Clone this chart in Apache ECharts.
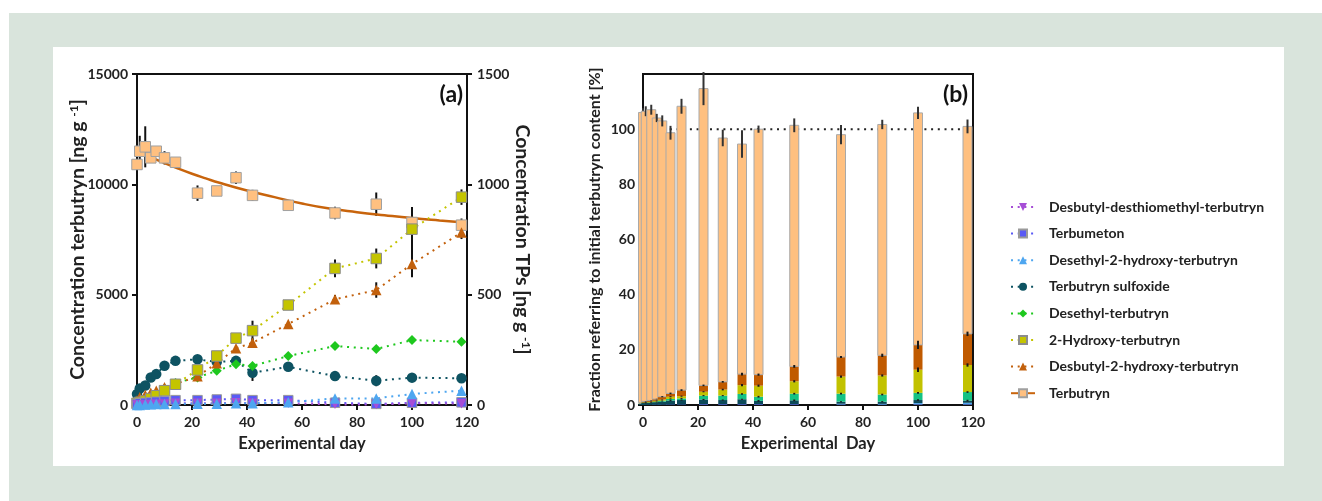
<!DOCTYPE html>
<html>
<head>
<meta charset="utf-8">
<script src="https://cdn.jsdelivr.net/npm/echarts@6/dist/echarts.min.js"></script>
<style>
  html, body { margin: 0; padding: 0; background: #ffffff; }
  #frame { position: relative; width: 1322px; height: 501px; overflow: hidden; }
  #outer { position: absolute; left: 9px; top: 13px; right: 0; bottom: 0; background: #d9e4dc; }
  #panel { position: absolute; left: 53px; top: 47px; width: 1231px; height: 419px; background: #ffffff; }
  #chart { position: absolute; left: 0; top: 0; width: 1322px; height: 501px; }
</style>
</head>
<body>
<div id="frame">
  <div id="outer"></div>
  <div id="panel"></div>
  <div id="chart"></div>
</div>
<script>
// Sampling days of the soil incubation experiment
const days = [0, 1, 3, 5, 7, 10, 14, 22, 29, 36, 42, 55, 72, 87, 100, 118];

// Panel (a): terbutryn concentration [ng/g] (left axis) with standard deviations
const terbutryn   = [10900, 11500, 11700, 11200, 11500, 11200, 11000, 9600, 9700, 10300, 9500, 9050, 8700, 9100, 8270, 8150];
const terbutrynSd = [500, 700, 930, 0, 150, 300, 0, 350, 0, 280, 250, 0, 280, 530, 600, 300];

// Fitted decay curve of terbutryn
const fitDays   = [1, 5, 10, 15, 20, 25, 30, 40, 50, 60, 70, 80, 90, 100, 110, 118];
const fitValues = [11450, 11230, 10960, 10710, 10480, 10270, 10070, 9720, 9420, 9130, 8900, 8740, 8600, 8470, 8360, 8280];

// Panel (a): transformation products [ng/g] (right axis)
const desbutylDesthiomethyl = [0, 0, 0, 2, 3, 5, 8, 8, 8, 10, 8, 8, 3, 2, 8, 6];
const terbumeton            = [5, 8, 10, 12, 15, 18, 22, 22, 25, 28, 22, 22, 10, 5, 10, 12];
const desethylHydroxy       = [0, 0, 2, 3, 4, 5, 5, 6, 6, 8, 8, 12, 30, 30, 50, 65];
const sulfoxide             = [50, 75, 88, 125, 140, 178, 200, 207, 195, 200, 146, 173, 131, 110, 124, 121];
const sulfoxideSd           = [0, 0, 0, 0, 0, 5, 5, 5, 0, 8, 37, 15, 15, 25, 15, 5];
const desethyl              = [5, 10, 20, 30, 45, 75, 100, 125, 155, 185, 177, 222, 267, 254, 294, 287];
const desethylSd            = [0, 0, 0, 0, 0, 0, 5, 5, 5, 5, 12, 8, 8, 8, 8, 6];
const hydroxy               = [8, 12, 18, 29, 42, 65, 94, 159, 222, 303, 337, 453, 619, 664, 797, 942];
const hydroxySd             = [0, 0, 0, 0, 0, 0, 0, 5, 5, 10, 45, 10, 40, 45, 100, 35];
const desbutylHydroxy       = [20, 35, 45, 55, 65, 80, 95, 130, 189, 257, 282, 367, 479, 521, 639, 782];
const desbutylHydroxySd     = [0, 0, 0, 0, 0, 0, 0, 5, 8, 10, 20, 5, 20, 35, 60, 30];

// Panel (b): fractions referring to the initial terbutryn content [%]
const fracDesbutylDesthiomethyl = [0, 0, 0, 0, 0, 0, 0, 0.05, 0.05, 0.05, 0.05, 0.05, 0.05, 0.05, 0.1, 0.1];
const fracTerbumeton            = [0, 0, 0.05, 0.1, 0.1, 0.15, 0.15, 0.2, 0.2, 0.2, 0.2, 0.2, 0.1, 0.05, 0.1, 0.1];
const fracDesethylHydroxy       = [0, 0, 0, 0.05, 0.05, 0.05, 0.05, 0.1, 0.1, 0.1, 0.1, 0.1, 0.3, 0.3, 0.5, 0.6];
const fracSulfoxide             = [0.5, 0.7, 0.75, 0.85, 1.05, 1.4, 1.6, 1.65, 1.45, 1.75, 1.15, 1.35, 0.75, 0.8, 1.1, 0.8];
const fracDesethyl              = [0.05, 0.1, 0.15, 0.25, 0.4, 0.6, 0.6, 1.4, 1.6, 1.9, 1.5, 2.4, 2.9, 2.6, 2.6, 3.1];
const fracHydroxy               = [0.1, 0.15, 0.2, 0.3, 0.4, 0.8, 0.8, 1.4, 2.2, 3.2, 4.0, 4.5, 6.2, 6.9, 8.4, 9.8];
const fracDesbutylHydroxy       = [0.2, 0.35, 0.5, 0.6, 1.0, 1.2, 2.2, 2.3, 2.8, 4.0, 4.0, 5.4, 7.1, 7.3, 9.0, 11.3];
const fracTerbutryn             = [105.2, 105.2, 105.4, 101.9, 100.0, 94.5, 102.9, 107.6, 88.4, 83.4, 89.0, 87.4, 80.6, 83.7, 84.1, 75.2];
const fracTotalSd               = [1.5, 1.8, 1.8, 1.5, 2, 2.5, 2.7, 6, 3, 5, 1.3, 2.5, 3.5, 1.7, 2.2, 2.5];
const fracSulfoxideSd           = [0.1, 0.1, 0.1, 0.1, 0.1, 0.2, 0.2, 0.2, 0.2, 0.2, 0.3, 0.3, 0.2, 0.2, 0.3, 0.3];
const fracDesethylSd            = [0.1, 0.1, 0.1, 0.1, 0.1, 0.2, 0.2, 0.2, 0.2, 0.3, 0.3, 0.3, 0.3, 0.3, 0.3, 0.3];
const fracHydroxySd             = [0.1, 0.1, 0.1, 0.1, 0.1, 0.2, 0.2, 0.2, 0.3, 0.4, 0.4, 0.4, 0.4, 0.4, 0.8, 0.6];
const fracDesbutylHydroxySd     = [0.1, 0.1, 0.1, 0.1, 0.2, 0.3, 0.3, 0.3, 0.3, 0.5, 0.4, 0.5, 0.4, 0.6, 1.5, 0.8];
const referenceLevel = 100;

const names = {
  ddt: 'Desbutyl-desthiomethyl-terbutryn',
  tbm: 'Terbumeton',
  d2h: 'Desethyl-2-hydroxy-terbutryn',
  sul: 'Terbutryn sulfoxide',
  det: 'Desethyl-terbutryn',
  hyd: '2-Hydroxy-terbutryn',
  db2h: 'Desbutyl-2-hydroxy-terbutryn',
  tby: 'Terbutryn'
};

const FONT = 'Lato, "Open Sans", sans-serif';
const INK = '#222222';
const AXIS = '#111111';

const colors = {
  ddt: '#a64ed6', tbm: '#5a5af5', d2h: '#4ea6f0', sul: '#0e5362',
  det: '#1ec81e', hyd: '#c4c400', db2h: '#c2600c', tby: '#ffc080', tbyLine: '#c8640c'
};
const barColors = {
  ddt: '#a64ed6', tbm: '#5a5af5', d2h: '#4ea6f0', sul: '#0d4a5a',
  det: '#14c283', hyd: '#c2c200', db2h: '#c05a00', tby: '#ffc080'
};

const pairs = (xs, ys) => xs.map((x, i) => [x, ys[i]]);

// dotted connecting line + markers for one transformation product
function tpSeries(key, values, symbol, size, extra) {
  return Object.assign({
    name: names[key], type: 'line', xAxisIndex: 0, yAxisIndex: 1,
    data: pairs(days, values),
    symbol: symbol, symbolSize: size, showAllSymbol: true,
    lineStyle: { color: colors[key], width: 2, type: [2, 4.7] },
    itemStyle: { color: colors[key] },
    emphasis: { disabled: true }
  }, extra || {});
}

// vertical error bars (mean ± SD)
function errorBars(values, sds, yAxisIndex, color) {
  return {
    type: 'custom', xAxisIndex: 0, yAxisIndex: yAxisIndex, silent: true,
    data: days.map((d, i) => [d, values[i], sds[i]]),
    encode: { x: 0, y: 1 },
    renderItem: function (params, api) {
      const sd = api.value(2);
      if (!sd) return null;
      const x = api.value(0), y = api.value(1);
      const a = api.coord([x, y - sd]);
      const b = api.coord([x, y + sd]);
      return { type: 'line', shape: { x1: a[0], y1: a[1], x2: b[0], y2: b[1] },
               style: { stroke: color || '#111', lineWidth: 2 } };
    }
  };
}

// stacked fraction bars, bottom to top
const stackParts = [
  { values: fracDesbutylDesthiomethyl, color: barColors.ddt },
  { values: fracTerbumeton, color: barColors.tbm },
  { values: fracDesethylHydroxy, color: barColors.d2h },
  { values: fracSulfoxide, color: barColors.sul, sd: fracSulfoxideSd },
  { values: fracDesethyl, color: barColors.det, sd: fracDesethylSd },
  { values: fracHydroxy, color: barColors.hyd, sd: fracHydroxySd },
  { values: fracDesbutylHydroxy, color: barColors.db2h, sd: fracDesbutylHydroxySd },
  { values: fracTerbutryn, color: barColors.tby, stroke: '#a9a9a9', sd: fracTotalSd, sdColor: '#333' }
];
const barRows = days.map((d, i) => [d].concat(stackParts.map(p => p.values[i])).concat(stackParts.map(p => (p.sd ? p.sd[i] : 0))));
const nParts = stackParts.length;

const plainNumber = (v) => String(v);
const axisLabelStyle = { fontFamily: FONT, fontSize: 14, fontWeight: 'bold', color: INK, formatter: plainNumber };
const supRich = (size) => ({ sup: { fontFamily: FONT, fontSize: size, fontWeight: 'bold', color: INK, verticalAlign: 'top' } });

function valueAxis(extra) {
  return Object.assign({
    type: 'value',
    axisLine: { show: true, onZero: false, lineStyle: { color: AXIS, width: 2 } },
    axisTick: { show: true, length: 5, lineStyle: { color: AXIS, width: 2 } },
    axisLabel: Object.assign({ margin: 9 }, axisLabelStyle),
    splitLine: { show: false },
    nameLocation: 'middle',
    nameMoveOverlap: false
  }, extra);
}

const chart = echarts.init(document.getElementById('chart'), null, { renderer: 'canvas' });

const option = {
  animation: false,
  textStyle: { fontFamily: FONT },
  grid: [
    { left: 137, top: 74, width: 330, height: 331, show: true, borderColor: AXIS, borderWidth: 2, backgroundColor: 'transparent', containLabel: false, outerBoundsMode: 'none' },
    { left: 643, top: 74, width: 330, height: 331, show: true, borderColor: AXIS, borderWidth: 2, backgroundColor: 'transparent', containLabel: false, outerBoundsMode: 'none' }
  ],
  xAxis: [
    valueAxis({ gridIndex: 0, min: 0, max: 120, interval: 20,
      axisLabel: Object.assign({}, axisLabelStyle, { margin: 10 }),
      name: 'Experimental day', nameGap: 30,
      nameTextStyle: { fontFamily: FONT, fontSize: 16.5, fontWeight: 'bold', color: INK } }),
    valueAxis({ gridIndex: 1, min: 0, max: 120, interval: 20,
      axisLabel: Object.assign({}, axisLabelStyle, { margin: 10 }),
      name: 'Experimental  Day', nameGap: 30,
      nameTextStyle: { fontFamily: FONT, fontSize: 16.5, fontWeight: 'bold', color: INK } })
  ],
  yAxis: [
    valueAxis({ gridIndex: 0, position: 'left', min: 0, max: 15000, interval: 5000,
      name: 'Concentration terbutryn [ng g {sup|-1}]', nameGap: 49,
      nameTextStyle: { fontFamily: FONT, fontSize: 19.5, fontWeight: 'bold', color: INK, rich: supRich(12) } }),
    valueAxis({ gridIndex: 0, position: 'right', min: 0, max: 1500, interval: 500,
      axisLabel: Object.assign({}, axisLabelStyle, { margin: 10 }),
      name: 'Concentration TPs [ng g {sup|-1}]', nameGap: 45, nameRotate: -90,
      nameTextStyle: { fontFamily: FONT, fontSize: 19.5, fontWeight: 'bold', color: INK, rich: supRich(12) } }),
    valueAxis({ gridIndex: 1, position: 'left', min: 0, max: 120, interval: 20,
      axisLabel: Object.assign({}, axisLabelStyle, { margin: 8, showMaxLabel: false }),
      name: 'Fraction referring to initial terbutryn content [%]', nameGap: 40,
      nameTextStyle: { fontFamily: FONT, fontSize: 16, fontWeight: 'bold', color: INK } })
  ],
  legend: {
    data: [names.ddt, names.tbm, names.d2h, names.sul, names.det, names.hyd, names.db2h, names.tby],
    orient: 'vertical', left: 1010, top: 200, padding: 0,
    itemWidth: 24, itemHeight: 10, itemGap: 12.6,
    selectedMode: false,
    textStyle: { fontFamily: FONT, fontSize: 14, fontWeight: 'bold', color: INK, padding: [0, 0, 0, 9] }
  },
  graphic: [
    { type: 'text', right: 1322 - 463, top: 83,
      style: { text: '(a)', font: 'bold 23px ' + FONT, fill: '#111' } },
    { type: 'text', right: 1322 - 968, top: 83,
      style: { text: '(b)', font: 'bold 23px ' + FONT, fill: '#111' } }
  ],
  series: [
    // ---- panel (a) ----
    { name: names.tby, type: 'line', xAxisIndex: 0, yAxisIndex: 0,
      data: pairs(fitDays, fitValues), smooth: true, showSymbol: false,
      symbol: 'rect', symbolSize: 10,
      lineStyle: { color: colors.tbyLine, width: 2.5 },
      itemStyle: { color: colors.tby, borderColor: '#a0a0a0', borderWidth: 1 },
      emphasis: { disabled: true }, z: 2 },
    errorBars(terbutryn, terbutrynSd, 0),
    { name: 'Terbutryn data', type: 'scatter', xAxisIndex: 0, yAxisIndex: 0,
      data: pairs(days, terbutryn), symbol: 'rect', symbolSize: 10.5,
      itemStyle: { color: colors.tby, borderColor: '#a0a0a0', borderWidth: 1, opacity: 1 },
      emphasis: { disabled: true } },

    errorBars(sulfoxide, sulfoxideSd, 1),
    tpSeries('sul', sulfoxide, 'circle', 10.5),
    errorBars(desethyl, desethylSd, 1),
    tpSeries('det', desethyl, 'diamond', 10),
    errorBars(desbutylHydroxy, desbutylHydroxySd, 1),
    tpSeries('db2h', desbutylHydroxy, 'triangle', 10.5),
    errorBars(hydroxy, hydroxySd, 1),
    tpSeries('hyd', hydroxy, 'rect', 10.5, { itemStyle: { color: colors.hyd, borderColor: '#8c8c8c', borderWidth: 1 } }),
    tpSeries('tbm', terbumeton, 'rect', 9.5, { itemStyle: { color: colors.tbm, borderColor: '#9a9a9a', borderWidth: 1 } }),
    tpSeries('ddt', desbutylDesthiomethyl, 'triangle', 9.5, { symbolRotate: 180 }),
    tpSeries('d2h', desethylHydroxy, 'triangle', 10.5),

    // ---- panel (b) ----
    { type: 'line', xAxisIndex: 1, yAxisIndex: 2, silent: true,
      data: [[0, referenceLevel], [120, referenceLevel]], symbol: 'none',
      lineStyle: { color: '#222', width: 2, type: [2, 4.7] }, z: 1 },
    { type: 'custom', xAxisIndex: 1, yAxisIndex: 2, silent: true, z: 3,
      data: barRows,
      encode: { x: 0, y: 1 },
      renderItem: function (params, api) {
        const day = api.value(0);
        const half = 4.5;
        const children = [];
        const whiskers = [];
        let acc = 0;
        for (let k = 0; k < nParts; k++) {
          const v = api.value(1 + k);
          const sd = api.value(1 + nParts + k);
          const part = stackParts[k];
          const p0 = api.coord([day, acc]);
          const p1 = api.coord([day, acc + v]);
          if (v > 0) {
            children.push({ type: 'rect',
              shape: { x: p0[0] - half, y: p1[1], width: half * 2, height: p0[1] - p1[1] },
              style: { fill: part.color, stroke: part.stroke || null, lineWidth: part.stroke ? 1 : 0 } });
          }
          acc += v;
          if (sd > 0) {
            const a = api.coord([day, acc - sd]);
            const b = api.coord([day, acc + sd]);
            whiskers.push({ type: 'line', shape: { x1: a[0], y1: a[1], x2: b[0], y2: b[1] },
              style: { stroke: part.sdColor || '#1a1a1a', lineWidth: 2 } });
          }
        }
        return { type: 'group', children: children.concat(whiskers) };
      } }
  ]
};

chart.setOption(option);
</script>
</body>
</html>
